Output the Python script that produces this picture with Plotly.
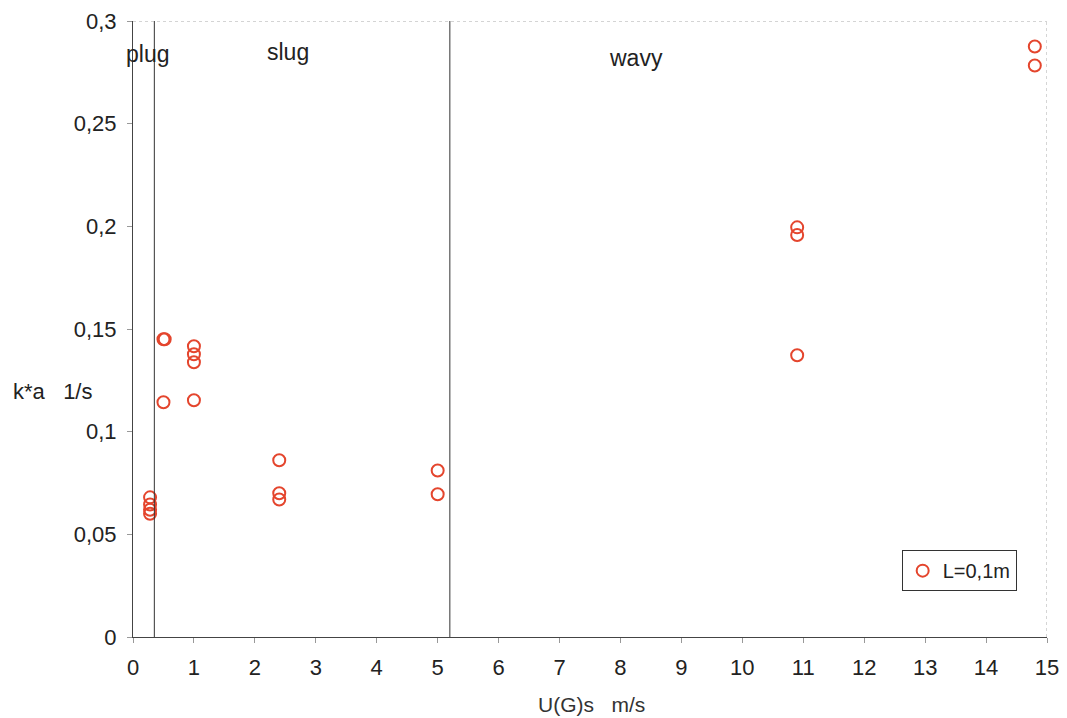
import plotly.graph_objects as go

# Gas superficial velocity U(G)s [m/s] and measured k*a [1/s], L=0,1m
u_gs = [0.28, 0.28, 0.28, 0.28,
        0.5, 0.52, 0.5,
        1.0, 1.0, 1.0, 1.0,
        2.4, 2.4, 2.4,
        5.0, 5.0,
        10.9, 10.9, 10.9,
        14.8, 14.8]
k_a = [0.068, 0.0645, 0.062, 0.060,
       0.145, 0.145, 0.1143,
       0.1416, 0.1377, 0.1338, 0.1153,
       0.0861, 0.070, 0.067,
       0.0811, 0.0695,
       0.1995, 0.1958, 0.1372,
       0.2876, 0.2783]

# Flow-regime boundaries and labels
regime_bounds = [0.35, 5.2]
regime_names = ["plug", "slug", "wavy"]
regime_label_x = [0.23, 2.55, 8.25]
regime_label_y = [0.284, 0.285, 0.282]

x_ticks = list(range(0, 16))
y_ticks = [0, 0.05, 0.1, 0.15, 0.2, 0.25, 0.3]

red = "#e4452d"
font = "Liberation Sans, Arial, sans-serif"
txt = "#222222"

fig = go.Figure()
fig.add_trace(go.Scatter(
    x=u_gs, y=k_a, mode="markers", name="L=0,1m",
    marker=dict(symbol="circle-open", size=12, color=red,
                line=dict(width=2, color=red)),
))

for xb in regime_bounds:
    fig.add_shape(type="line", x0=xb, x1=xb, y0=0, y1=0.3,
                  xref="x", yref="y", line=dict(color="#333333", width=1))

# plot frame: solid left/bottom, dotted top/right
fig.add_shape(type="line", x0=0, x1=15, y0=0.3, y1=0.3, xref="x", yref="y",
              line=dict(color="#aaaaaa", width=1, dash="dot"))
fig.add_shape(type="line", x0=15, x1=15, y0=0, y1=0.3, xref="x", yref="y",
              line=dict(color="#aaaaaa", width=1, dash="dot"))

for name, lx, ly in zip(regime_names, regime_label_x, regime_label_y):
    fig.add_annotation(x=lx, y=ly, text=name, showarrow=False,
                       xref="x", yref="y", xanchor="center",
                       font=dict(family=font, size=23, color=txt))

fig.add_annotation(x=-0.133, y=0.398, xref="paper", yref="paper",
                   text="k*a&nbsp;&nbsp;&nbsp;1/s", showarrow=False,
                   xanchor="left", yanchor="middle",
                   font=dict(family=font, size=22, color=txt))
fig.add_annotation(x=0.502, y=-0.11, xref="paper", yref="paper",
                   text="U(G)s&nbsp;&nbsp;&nbsp;m/s", showarrow=False,
                   xanchor="center", yanchor="middle",
                   font=dict(family=font, size=21, color="#333333"))

fig.update_layout(
    width=1067, height=718,
    margin=dict(l=133, r=20, t=21, b=81, autoexpand=False),
    paper_bgcolor="white", plot_bgcolor="white",
    separators=",.",
    showlegend=True,
    legend=dict(x=0.841, y=0.141, xanchor="left", yanchor="top",
                bordercolor="#333333", borderwidth=1, bgcolor="white",
                font=dict(family=font, size=20, color=txt),
                itemwidth=30, tracegroupgap=0),
    xaxis=dict(range=[0, 15], tickvals=x_ticks, showgrid=False, zeroline=False,
               showline=True, linecolor="#444444", linewidth=1,
               ticks="outside", ticklen=5, tickcolor="#999999",
               ticklabelstandoff=6,
               tickfont=dict(family=font, size=22, color=txt)),
    yaxis=dict(range=[0, 0.3], tickvals=y_ticks, showgrid=False, zeroline=False,
               showline=True, linecolor="#444444", linewidth=1,
               ticks="outside", ticklen=5, tickcolor="#999999",
               ticklabelstandoff=6,
               tickfont=dict(family=font, size=22, color=txt)),
)

fig.write_html("out.html")
